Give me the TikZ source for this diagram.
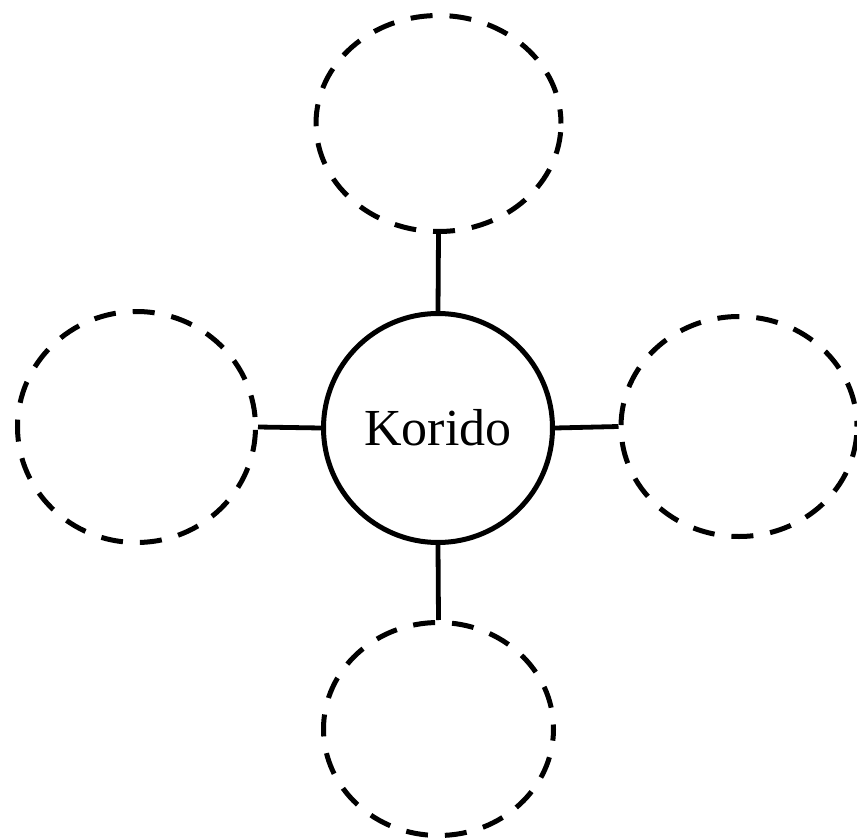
\documentclass[tikz,border=0pt]{standalone}
\usepackage{fontspec}
\setmainfont{Liberation Serif}
\usetikzlibrary{shapes.geometric}
\begin{document}
\begin{tikzpicture}[x=1pt,y=-1pt,
  hub/.style={circle,draw,line width=5pt,inner sep=0pt,minimum size=229pt,font=\fontsize{52}{60}\selectfont},
  leaf/.style={ellipse,draw,line width=5pt,inner sep=0pt,dash pattern=on 22pt off 17pt},
  link/.style={line width=4.8pt}]
\useasboundingbox (0,0) rectangle (857,840);
\node[hub] (c) at (438,428) {Korido};
\node[leaf,dash phase=7.8pt,minimum width=245pt,minimum height=216pt] (t) at (438.5,123.5) {};
\node[leaf,dash phase=29pt,minimum width=238pt,minimum height=231pt] (l) at (136.5,427) {};
\node[leaf,dash phase=16.2pt,minimum width=236pt,minimum height=220pt] (r) at (739,426.5) {};
\node[leaf,dash phase=17.5pt,minimum width=230pt,minimum height=213pt] (b) at (438.5,729) {};
\draw[link] (c.north) -- (t.south);
\draw[link] (c.west) -- (l.east);
\draw[link] (c.east) -- (r.west);
\draw[link] (c.south) -- (b.north);
\end{tikzpicture}
\end{document}
